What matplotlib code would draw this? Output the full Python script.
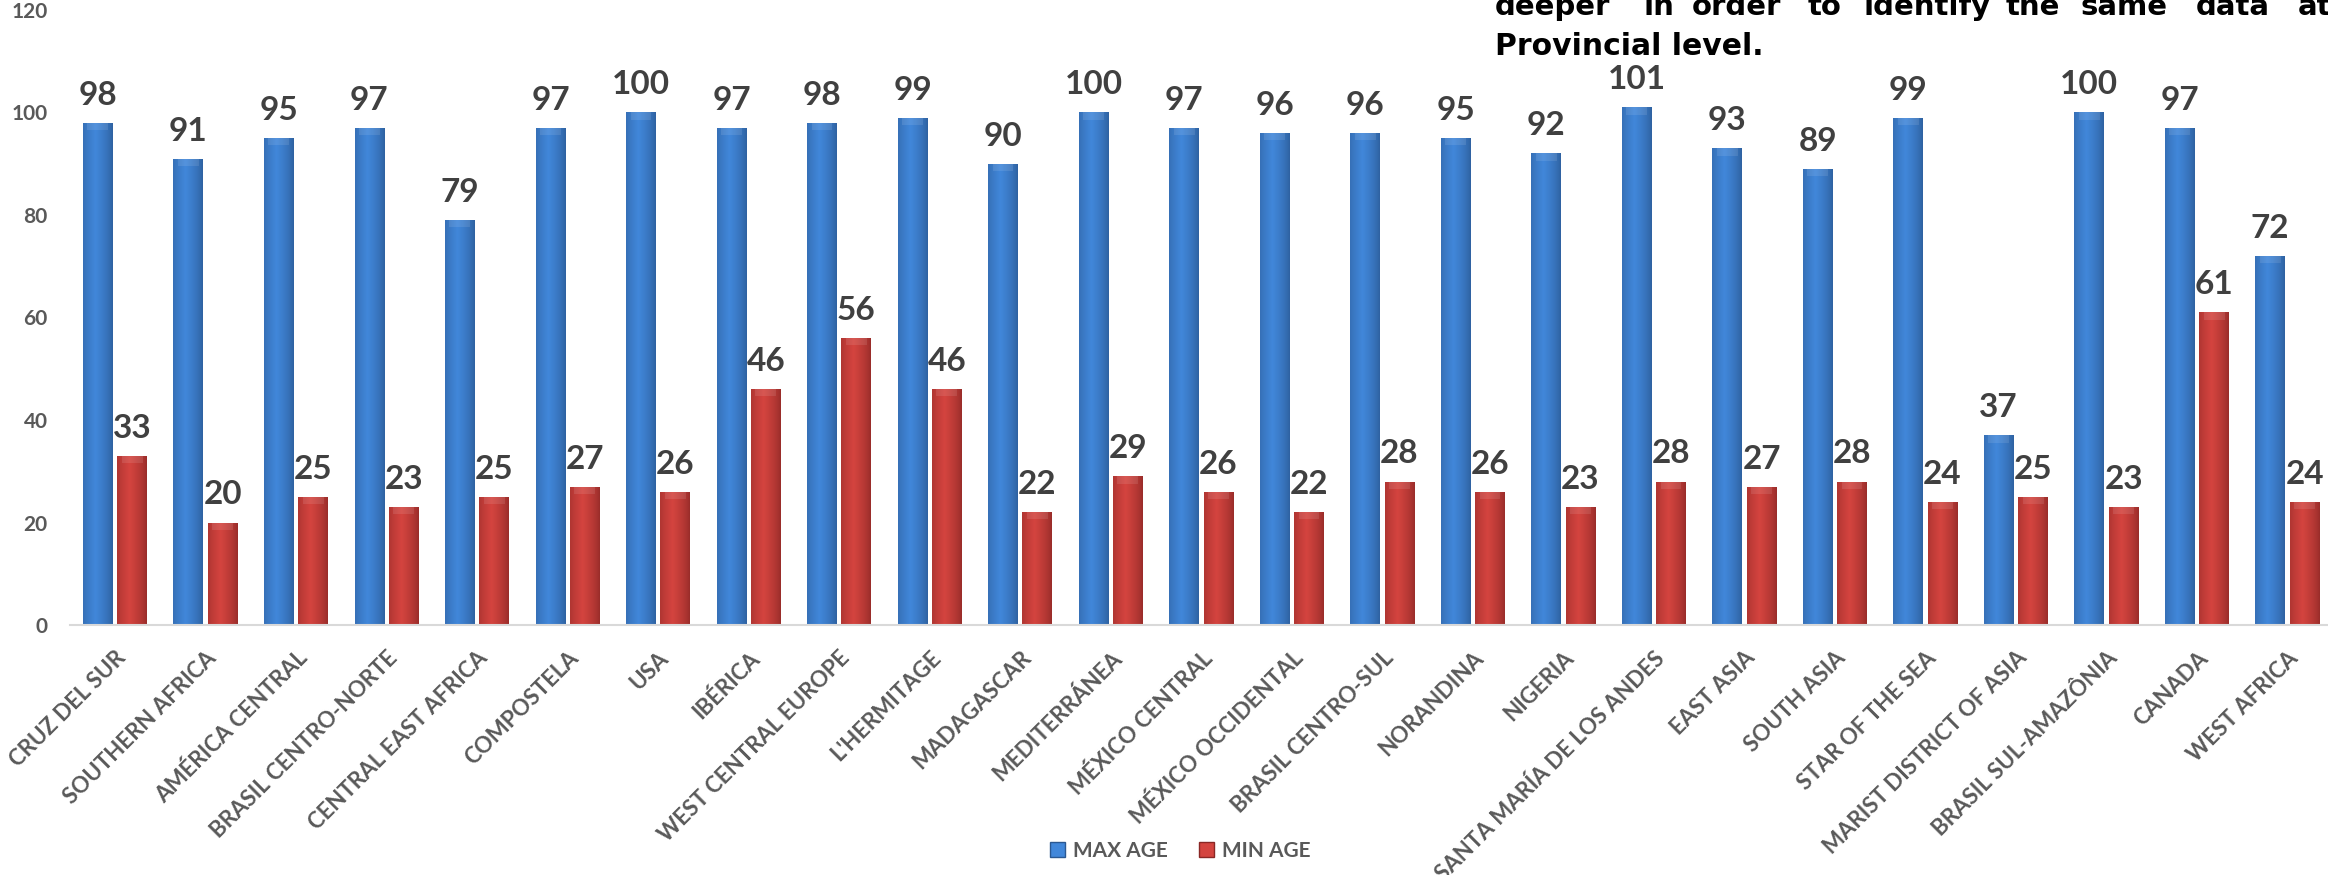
import numpy as np
import matplotlib
matplotlib.use("Agg")
import matplotlib.pyplot as plt
from matplotlib.colors import to_rgb
from matplotlib.patches import Patch

# Datos del gráfico
provinces = [
    "CRUZ DEL SUR", "SOUTHERN AFRICA", "AMÉRICA CENTRAL", "BRASIL CENTRO-NORTE",
    "CENTRAL EAST AFRICA", "COMPOSTELA", "USA", "IBÉRICA", "WEST CENTRAL EUROPE",
    "L'HERMITAGE", "MADAGASCAR", "MEDITERRÁNEA", "MÉXICO CENTRAL",
    "MÉXICO OCCIDENTAL", "BRASIL CENTRO-SUL", "NORANDINA", "NIGERIA",
    "SANTA MARÍA DE LOS ANDES", "EAST ASIA", "SOUTH ASIA", "STAR OF THE SEA",
    "MARIST DISTRICT OF ASIA", "BRASIL SUL-AMAZÔNIA", "CANADA", "WEST AFRICA",
]
max_age = [98, 91, 95, 97, 79, 97, 100, 97, 98, 99, 90, 100, 97, 96, 96, 95,
           92, 101, 93, 89, 99, 37, 100, 97, 72]
min_age = [33, 20, 25, 23, 25, 27, 26, 46, 56, 46, 22, 29, 26, 22, 28, 26,
           23, 28, 27, 28, 24, 25, 23, 61, 24]
y_ticks = [0, 20, 40, 60, 80, 100, 120]

# párrafo justificado que queda recortado arriba a la derecha
note_words = ["deeper", "in", "order", "to", "identify", "the", "same", "data", "at"]
note_x_px = [1495, 1643, 1692, 1808, 1863, 2006, 2081, 2196, 2298]
note_line2 = "Provincial level."

BLUE = ("#2a5892", "#4187da")
RED = ("#8a2725", "#d4443f")
LABEL_GRAY = "#404040"
TICK_GRAY = "#595959"
W_PX, H_PX = 2328, 875


def shade_bars(ax, bars, dark, light):
    """Relleno con degradado horizontal para imitar el efecto biselado."""
    d, l = np.array(to_rgb(dark)), np.array(to_rgb(light))
    t = np.linspace(0, 1, 80)
    prof = np.clip(1 - np.abs(t - 0.42) / 0.62, 0, 1) ** 0.6
    row = d + (l - d) * prof[:, None]
    for p in bars:
        x0, w, h = p.get_x(), p.get_width(), p.get_height()
        img = np.repeat(row[None, :, :], 2, axis=0)
        im = ax.imshow(img, extent=[x0, x0 + w, 0, h], aspect="auto",
                       zorder=3, interpolation="bilinear")
        im.set_clip_path(p)
        # bisel superior, muy suave
        cap = min(1.4, h * 0.3)
        ax.fill_between([x0 + w * 0.15, x0 + w * 0.85], h - cap, h,
                        color="white", alpha=0.10, lw=0, zorder=4)


fig = plt.figure(figsize=(W_PX / 100, H_PX / 100), dpi=100)
ax = fig.add_axes([0.030, 0.2857, 0.972, 0.7029])

x = np.arange(len(provinces))
bw = 0.33
off = 0.19

b1 = ax.bar(x - off, max_age, bw, color=BLUE[0], zorder=2, label="MAX AGE")
b2 = ax.bar(x + off, min_age, bw, color=RED[0], zorder=2, label="MIN AGE")
shade_bars(ax, b1, *BLUE)
shade_bars(ax, b2, *RED)

for bars, vals in [(b1, max_age), (b2, min_age)]:
    for p, v in zip(bars, vals):
        ax.annotate(str(v), (p.get_x() + p.get_width() / 2, v),
                    xytext=(0, 13), textcoords="offset points",
                    ha="center", va="baseline", fontsize=24,
                    fontweight="bold", family="Lato", color=LABEL_GRAY)

ax.set_xlim(-0.5, len(provinces) - 0.5)
ax.set_ylim(0, 120)
ax.set_yticks(y_ticks)
ax.set_yticklabels([str(v) for v in y_ticks], fontsize=15, fontweight="bold",
                   family="Lato", color=TICK_GRAY)
ax.tick_params(axis="y", length=0, pad=16)
ax.set_xticks(x)
ax.set_xticklabels(provinces, rotation=45, ha="right", rotation_mode="anchor",
                   fontsize=16, family="Lato", fontweight="bold", color=TICK_GRAY)
ax.tick_params(axis="x", length=0, pad=16)

for s in ["top", "right", "left"]:
    ax.spines[s].set_visible(False)
ax.spines["bottom"].set_color("#d9d9d9")
ax.spines["bottom"].set_linewidth(1.5)
ax.spines["bottom"].set_zorder(5)

handles = [Patch(facecolor=BLUE[1], edgecolor=BLUE[0]),
           Patch(facecolor=RED[1], edgecolor=RED[0])]
fig.legend(handles, ["MAX AGE", "MIN AGE"], loc="lower center",
           bbox_to_anchor=(0.507, -0.005), ncol=2, frameon=False,
           handlelength=0.7, handleheight=0.7, handletextpad=0.4,
           columnspacing=1.5, prop={"family": "Lato", "weight": "bold", "size": 15},
           labelcolor=TICK_GRAY)

# Texto del informe, recortado por el borde superior como en el original
for word, xp in zip(note_words, note_x_px):
    fig.text(xp / W_PX, 1 - 15 / H_PX, word, fontsize=21, fontweight="bold",
             family="DejaVu Sans", color="black", va="baseline")
fig.text(1495 / W_PX, 1 - 55 / H_PX, note_line2, fontsize=21.5, fontweight="bold",
         family="DejaVu Sans", color="black", va="baseline")

fig.savefig("out.png", dpi=100)
